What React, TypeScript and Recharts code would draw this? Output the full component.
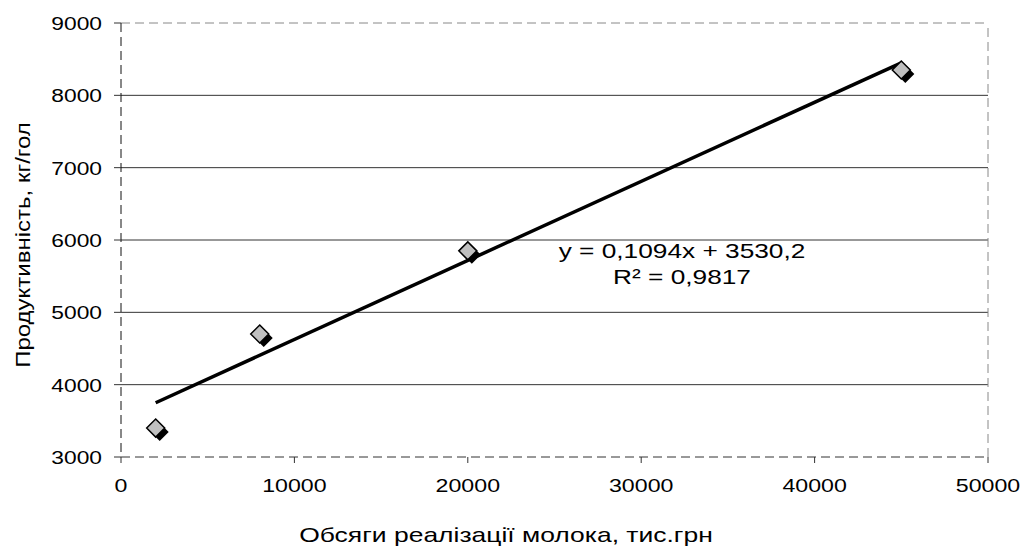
import React from 'react';
import {
  ScatterChart,
  Scatter,
  XAxis,
  YAxis,
  ReferenceLine,
} from 'recharts';

// observed points: sales volume (тис.грн) vs productivity (кг/гол)
const salesVolume = [2000, 8000, 20000, 45000];
const productivity = [3400, 4700, 5850, 8350];

// linear trend endpoints
const trendX = [2000, 45000];
const trendY = [3750, 8450];

const xTicks = [0, 10000, 20000, 30000, 40000, 50000];
const yTicks = [3000, 4000, 5000, 6000, 7000, 8000, 9000];
const gridValues = [4000, 5000, 6000, 7000, 8000];

const points = salesVolume.map((x, i) => ({ x, y: productivity[i] }));
const trend = trendX.map((x, i) => ({ x, y: trendY[i] }));

const FONT = '"Liberation Sans", Arial, sans-serif';

const diamond = (cx: number, cy: number, r: number) =>
  `M${cx},${cy - r} L${cx + r},${cy} L${cx},${cy + r} L${cx - r},${cy} Z`;

const Marker = (props: any) => {
  const { cx, cy } = props;
  if (cx == null || cy == null) return null;
  return (
    <g>
      <path d={diamond(cx + 4, cy + 4, 9)} fill="#000" />
      <path d={diamond(cx, cy, 9)} fill="#c0c0c0" stroke="#000" strokeWidth={1.5} />
    </g>
  );
};

const YTick = (props: any) => {
  const { x, y, payload } = props;
  return (
    <text
      transform={`translate(${x},${y + 7}) scale(1.2,1)`}
      textAnchor="end"
      fontFamily={FONT}
      fontSize={19}
      fill="#000"
    >
      {payload.value}
    </text>
  );
};

const XTick = (props: any) => {
  const { x, y, payload } = props;
  return (
    <text
      transform={`translate(${x},${y + 27}) scale(1.22,1)`}
      textAnchor="middle"
      fontFamily={FONT}
      fontSize={19}
      fill="#000"
    >
      {payload.value}
    </text>
  );
};

export default function App() {
  return (
    <div style={{ position: 'absolute', left: 0, top: 0, width: 1023, height: 551, background: '#fff' }}>
      <ScatterChart width={1023} height={551} margin={{ top: 23, right: 35, bottom: 64, left: 61 }}>
        <XAxis
          type="number"
          dataKey="x"
          domain={[0, 50000]}
          ticks={xTicks}
          interval={0}
          tickSize={6}
          tickMargin={2}
          height={30}
          stroke="#333"
          axisLine={{ stroke: '#333', strokeDasharray: '9 5' }}
          tickLine={{ stroke: '#333' }}
          tick={<XTick />}
        />
        <YAxis
          type="number"
          dataKey="y"
          domain={[3000, 9000]}
          ticks={yTicks}
          interval={0}
          tickSize={7}
          tickMargin={12}
          width={60}
          axisLine={{ stroke: '#111', strokeDasharray: '9 5' }}
          tickLine={{ stroke: '#333' }}
          tick={<YTick />}
        />
        {gridValues.map((v) => (
          <ReferenceLine key={v} y={v} stroke="#333" strokeWidth={1} />
        ))}
        <ReferenceLine y={9000} stroke="#888" strokeDasharray="9 5" />
        <ReferenceLine x={50000} stroke="#888" strokeDasharray="9 5" />
        <Scatter
          data={trend}
          line={{ stroke: '#000', strokeWidth: 3.5 }}
          shape={() => null}
          isAnimationActive={false}
        />
        <Scatter data={points} shape={<Marker />} isAnimationActive={false} />
      </ScatterChart>

      <div
        style={{
          position: 'absolute',
          left: 482,
          top: 238,
          width: 400,
          textAlign: 'center',
          fontFamily: FONT,
          fontSize: 21,
          lineHeight: '26px',
          color: '#000',
          transform: 'scaleX(1.25)',
        }}
      >
        <div>y = 0,1094x + 3530,2</div>
        <div>R² = 0,9817</div>
      </div>

      <div
        style={{
          position: 'absolute',
          left: 256,
          top: 521,
          width: 500,
          textAlign: 'center',
          fontFamily: FONT,
          fontSize: 21,
          lineHeight: '28px',
          color: '#000',
          transform: 'scaleX(1.26)',
          whiteSpace: 'nowrap',
        }}
      >
        Обсяги реалізації молока, тис.грн
      </div>

      <div
        style={{
          position: 'absolute',
          left: 23 - 150,
          top: 245 - 14,
          width: 300,
          textAlign: 'center',
          fontFamily: FONT,
          fontSize: 20,
          lineHeight: '28px',
          color: '#000',
          transform: 'rotate(-90deg) scaleX(1.2)',
          whiteSpace: 'nowrap',
        }}
      >
        Продуктивність, кг/гол
      </div>
    </div>
  );
}
